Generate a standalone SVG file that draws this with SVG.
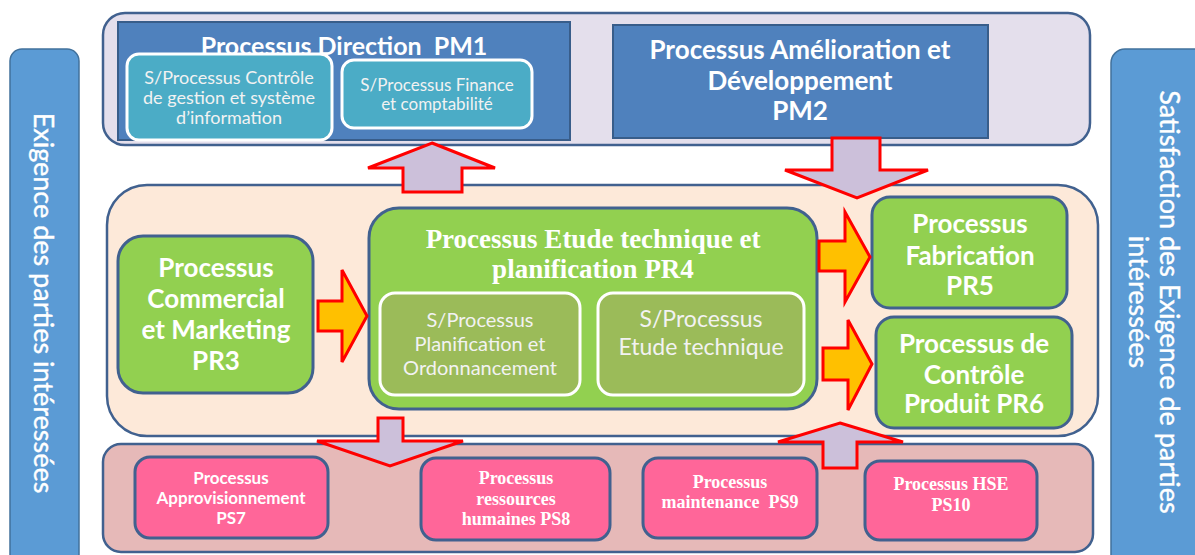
<svg xmlns="http://www.w3.org/2000/svg" width="1195" height="555" viewBox="0 0 1195 555">
<style>
.side{fill:#5B9BD5;stroke:#41719C;stroke-width:1.5}
.ctop{fill:#E4DFEC;stroke:#41618F;stroke-width:2.5}
.cmid{fill:#FDE9D9;stroke:#41618F;stroke-width:2.5}
.cbot{fill:#E6B9B8;stroke:#41618F;stroke-width:2.5}
.pm{fill:#4F81BD;stroke:#385D8A;stroke-width:2}
.cyan{fill:#4BACC6;stroke:#FFFFFF;stroke-width:3}
.green{fill:#92D050;stroke:#41618F;stroke-width:3}
.olive{fill:#9BBB59;stroke:#FFFFFF;stroke-width:3}
.pink{fill:#FF6699;stroke:#41618F;stroke-width:3}
.al{fill:#CCC0DA;stroke:#FF0000;stroke-width:3}
.ao{fill:#FFC000;stroke:#FF0000;stroke-width:3}
text{text-anchor:middle;fill:#FFFFFF}
.sb{font-family:Lato,"Open Sans",sans-serif;font-weight:bold}
.sn{font-family:Lato,"Open Sans",sans-serif;fill:#F2F2F2}
.sd{font-family:Lato,"Open Sans",sans-serif;fill:#FFFFFF;font-size:27px;stroke:#FFFFFF;stroke-width:0.4}
.tb{font-family:"Liberation Serif","Times New Roman",serif;font-weight:bold}
</style>
<g id="side-left">
<rect class="side" x="10" y="49" width="69" height="560" rx="12"/>
<text class="sd" transform="translate(34,303) rotate(90)">Exigence des parties intéressées</text>
</g>
<g id="side-right">
<rect class="side" x="1111" y="49" width="110" height="560" rx="14"/>
<text class="sd" transform="translate(1160,302) rotate(90)">Satisfaction des Exigence de parties</text>
<text class="sd" transform="translate(1129,302) rotate(90)">intéressées</text>
</g>
<g id="management">
<rect class="ctop" x="103" y="13" width="987" height="132" rx="22"/>
<g id="PM1">
<rect class="pm" x="118" y="22" width="452" height="118"/>
<text class="sb" font-size="25" x="344" y="55" xml:space="preserve">Processus Direction  PM1</text>
</g>
<g id="PM1-controle">
<rect class="cyan" x="127" y="54" width="205" height="86" rx="12"/>
<text class="sn" font-size="18" x="229" y="84">S/Processus Contrôle</text>
<text class="sn" font-size="18" x="229" y="104">de gestion et système</text>
<text class="sn" font-size="18" x="229" y="124">d’information</text>
</g>
<g id="PM1-finance">
<rect class="cyan" x="342" y="60" width="190" height="68" rx="12"/>
<text class="sn" font-size="17" x="437" y="91">S/Processus Finance</text>
<text class="sn" font-size="17" x="437" y="110">et comptabilité</text>
</g>
<g id="PM2">
<rect class="pm" x="613" y="25" width="375" height="113"/>
<text class="sb" font-size="26" x="800" y="59">Processus Amélioration et</text>
<text class="sb" font-size="26" x="800" y="90">Développement</text>
<text class="sb" font-size="26" x="800" y="120">PM2</text>
</g>
</g>
<g id="realisation">
<rect class="cmid" x="107" y="185" width="991" height="251" rx="40"/>
<g id="PR3">
<rect class="green" x="118" y="236" width="195" height="157" rx="25"/>
<text class="sb" font-size="26" x="216" y="277">Processus</text>
<text class="sb" font-size="26" x="216" y="308">Commercial</text>
<text class="sb" font-size="26" x="216" y="339">et Marketing</text>
<text class="sb" font-size="26" x="216" y="370">PR3</text>
</g>
<g id="PR4">
<rect class="green" x="369" y="208" width="448" height="201" rx="30"/>
<text class="tb" font-size="27" x="593" y="248">Processus Etude technique et</text>
<text class="tb" font-size="27" x="593" y="278">planification PR4</text>
</g>
<g id="PR4-planification">
<rect class="olive" x="380" y="293" width="200" height="102" rx="15"/>
<text class="sn" font-size="20" x="480" y="327">S/Processus</text>
<text class="sn" font-size="20" x="480" y="351">Planification et</text>
<text class="sn" font-size="20" x="480" y="375">Ordonnancement</text>
</g>
<g id="PR4-etude">
<rect class="olive" x="598" y="293" width="206" height="102" rx="15"/>
<text class="sn" font-size="23" x="701" y="327">S/Processus</text>
<text class="sn" font-size="23" x="701" y="355">Etude technique</text>
</g>
<g id="PR5">
<rect class="green" x="872" y="197" width="195" height="111" rx="18"/>
<text class="sb" font-size="26" x="970" y="233">Processus</text>
<text class="sb" font-size="26" x="970" y="265">Fabrication</text>
<text class="sb" font-size="26" x="970" y="295">PR5</text>
</g>
<g id="PR6">
<rect class="green" x="876" y="317" width="196" height="111" rx="18"/>
<text class="sb" font-size="26" x="974" y="353">Processus de</text>
<text class="sb" font-size="26" x="974" y="384">Contrôle</text>
<text class="sb" font-size="26" x="974" y="413">Produit PR6</text>
</g>
</g>
<g id="support">
<rect class="cbot" x="103" y="444" width="990" height="108" rx="18"/>
<g id="PS7">
<rect class="pink" x="135" y="457" width="193" height="81" rx="15"/>
<text class="sb" font-size="17" x="231" y="484">Processus</text>
<text class="sb" font-size="17" x="231" y="504">Approvisionnement</text>
<text class="sb" font-size="17" x="231" y="524">PS7</text>
</g>
<g id="PS8">
<rect class="pink" x="421" y="458" width="189" height="82" rx="15"/>
<text class="tb" font-size="18" x="516" y="484">Processus</text>
<text class="tb" font-size="18" x="516" y="505">ressources</text>
<text class="tb" font-size="18" x="516" y="525">humaines PS8</text>
</g>
<g id="PS9">
<rect class="pink" x="643" y="458" width="174" height="80" rx="15"/>
<text class="tb" font-size="18" x="730" y="488">Processus</text>
<text class="tb" font-size="18" x="730" y="508" xml:space="preserve">maintenance  PS9</text>
</g>
<g id="PS10">
<rect class="pink" x="865" y="461" width="172" height="79" rx="15"/>
<text class="tb" font-size="18" x="951" y="490">Processus HSE</text>
<text class="tb" font-size="18" x="951" y="511">PS10</text>
</g>
</g>
<g id="connectors">
<polygon class="al" points="832,138 880,138 880,170 928,170 857,198 785,170 832,170"/>
<polygon class="al" points="432,143 495,168 462,168 462,192 403,192 403,168 368,168"/>
<polygon class="ao" points="318,301 342,301 342,270 367,316 342,362 342,331 318,331"/>
<polygon class="ao" points="819,241 845,241 845,212 870,257 845,302 845,271 819,271"/>
<polygon class="ao" points="823,348 848,348 848,320 872,364 848,410 848,380 823,380"/>
<polygon class="al" points="378,418 403,418 403,441 463,441 390,466 317,441 378,441"/>
<polygon class="al" points="840,423 903,442 857,442 857,468 823,468 823,442 778,442"/>
</g>
</svg>
